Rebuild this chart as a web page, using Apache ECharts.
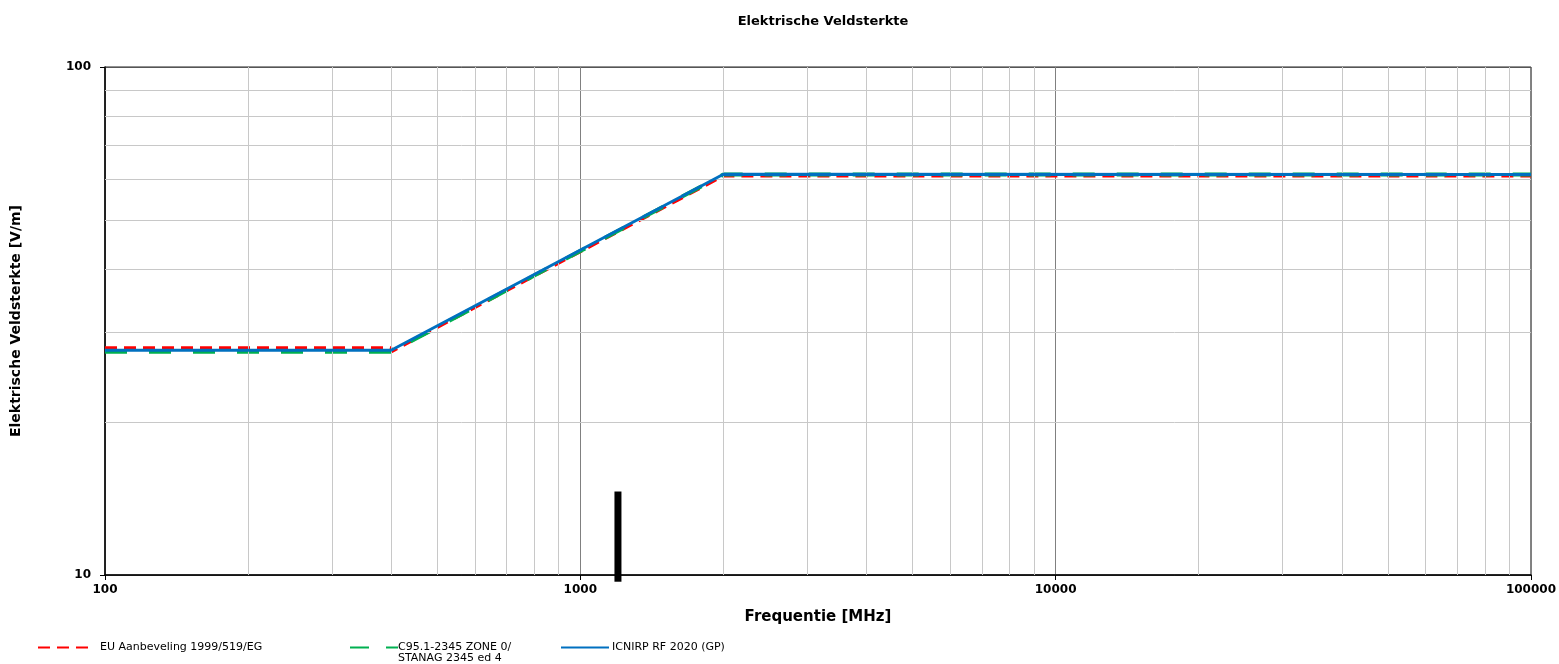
<!DOCTYPE html>
<html>
<head>
<meta charset="utf-8">
<script src="https://cdn.jsdelivr.net/npm/echarts@6/dist/echarts.min.js"></script>
<style>
  html, body { margin: 0; padding: 0; background: #fff; }
  #main { width: 1559px; height: 664px; }
</style>
</head>
<body>
<div id="main"></div>
<script>
  // data (frequency in MHz, field strength in V/m)
  var euData = [[100, 28], [400, 28], [400, 27.5], [2000, 61], [100000, 61]];
  var c95Data = [[100, 27.5], [400, 27.5], [2000, 61.4], [100000, 61.4]];
  var icnirpData = [[100, 27.7], [400, 27.7], [2000, 61.5], [100000, 61.4]];
  var markerData = [[1200, 9.7], [1200, 14.6]];

  // minor grid values
  var xMinor = [200, 300, 400, 500, 600, 700, 800, 900,
    2000, 3000, 4000, 5000, 6000, 7000, 8000, 9000,
    20000, 30000, 40000, 50000, 60000, 70000, 80000, 90000];
  var yMinor = [20, 30, 40, 50, 60, 70, 80, 90];

  var names = ['EU Aanbeveling 1999/519/EG', 'C95.1-2345 ZONE 0/\nSTANAG 2345 ed 4', 'ICNIRP RF 2020 (GP)'];

  var myChart = echarts.init(document.getElementById('main'));
  var font = '"DejaVu Sans", Arial, sans-serif';

  var gridLines = [];
  xMinor.forEach(function (v) { gridLines.push({ xAxis: v }); });
  yMinor.forEach(function (v) { gridLines.push({ yAxis: v }); });

  // one legend per item, the gaps in the picture are uneven
  function legendAt(left, top, name, w, pad, dash) {
    var lg = {
      left: left,
      top: top,
      padding: 0,
      data: [name],
      itemWidth: w,
      itemHeight: 10,
      itemGap: 0,
      selectedMode: false,
      itemStyle: { opacity: 0 },
      // only the first line sits next to the icon, the second one is a graphic below
      formatter: function (n) { return n.split('\n')[0]; },
      textStyle: { fontFamily: font, fontSize: 11, color: '#000', padding: [0, 0, 0, pad] }
    };
    if (dash) lg.lineStyle = { type: dash };
    return lg;
  }

  var option = {
    animation: false,
    backgroundColor: '#fff',
    textStyle: { fontFamily: font },
    title: {
      text: 'Elektrische Veldsterkte',
      left: 818,
      textAlign: 'center',
      top: 10,
      textStyle: { fontFamily: font, fontSize: 13, fontWeight: 'bold', color: '#000' }
    },
    legend: [
      legendAt(37, 642, names[0], 51, 6, [12, 7]),
      legendAt(349, 642, names[1], 48, -5, [19, 17]),
      legendAt(560, 642, names[2], 48, -2)
    ],
    graphic: [{
      type: 'text',
      left: 398,
      top: 653,
      style: { text: names[1].split('\n')[1], font: '11px ' + font, fill: '#000' }
    }],
    grid: {
      left: 105,
      right: 28,
      top: 67,
      bottom: 89,
      show: true,
      borderColor: '#222',
      borderWidth: 1
    },
    xAxis: {
      type: 'log',
      logBase: 10,
      min: 100,
      max: 100000,
      name: 'Frequentie [MHz]',
      nameLocation: 'middle',
      nameGap: 35,
      nameTextStyle: { fontFamily: font, fontSize: 15, fontWeight: 'bold', color: '#000' },
      axisLine: { show: true, onZero: false, lineStyle: { color: '#000', width: 1.5 } },
      axisTick: { show: true, length: 5, lineStyle: { color: '#000' } },
      axisLabel: {
        fontFamily: font, fontSize: 12, fontWeight: 'bold', color: '#000', margin: 9,
        formatter: function (v) { return String(Math.round(v)); }
      },
      splitLine: { show: true, lineStyle: { color: '#808080', width: 1 } },
      minorTick: { show: false },
      minorSplitLine: { show: false }
    },
    yAxis: {
      type: 'log',
      logBase: 10,
      min: 10,
      max: 100,
      name: 'Elektrische Veldsterkte [V/m]',
      nameLocation: 'middle',
      nameGap: 82,
      nameTextStyle: { fontFamily: font, fontSize: 14, fontWeight: 'bold', color: '#000' },
      axisLine: { show: true, lineStyle: { color: '#000', width: 1.5 } },
      axisTick: { show: true, length: 5, lineStyle: { color: '#000' } },
      axisLabel: {
        fontFamily: font, fontSize: 12, fontWeight: 'bold', color: '#000', margin: 14,
        formatter: function (v) { return String(Math.round(v)); }
      },
      splitLine: { show: true, lineStyle: { color: '#555', width: 1 } },
      minorTick: { show: false },
      minorSplitLine: { show: false }
    },
    series: [
      {
        name: 'grid',
        type: 'line',
        data: [],
        silent: true,
        z: 1,
        markLine: {
          silent: true,
          symbol: 'none',
          label: { show: false },
          animation: false,
          lineStyle: { color: '#c8c8c8', type: 'solid', width: 1 },
          emphasis: { disabled: true },
          data: gridLines
        }
      },
      {
        name: names[0],
        type: 'line',
        data: euData,
        symbol: 'none',
        z: 3,
        color: '#ff0000',
        lineStyle: { color: '#ff0000', width: 3, type: [12, 7] }
      },
      {
        name: names[1],
        type: 'line',
        data: c95Data,
        symbol: 'none',
        z: 4,
        color: '#00b050',
        lineStyle: { color: '#00b050', width: 4, type: [22, 22] }
      },
      {
        name: names[2],
        type: 'line',
        data: icnirpData,
        symbol: 'none',
        z: 5,
        color: '#0070c0',
        lineStyle: { color: '#0070c0', width: 3 }
      },
      {
        name: 'marker',
        type: 'line',
        data: markerData,
        symbol: 'none',
        clip: false,
        silent: true,
        z: 6,
        color: '#000',
        lineStyle: { color: '#000', width: 7, cap: 'butt' }
      }
    ]
  };

  myChart.setOption(option);
</script>
</body>
</html>
